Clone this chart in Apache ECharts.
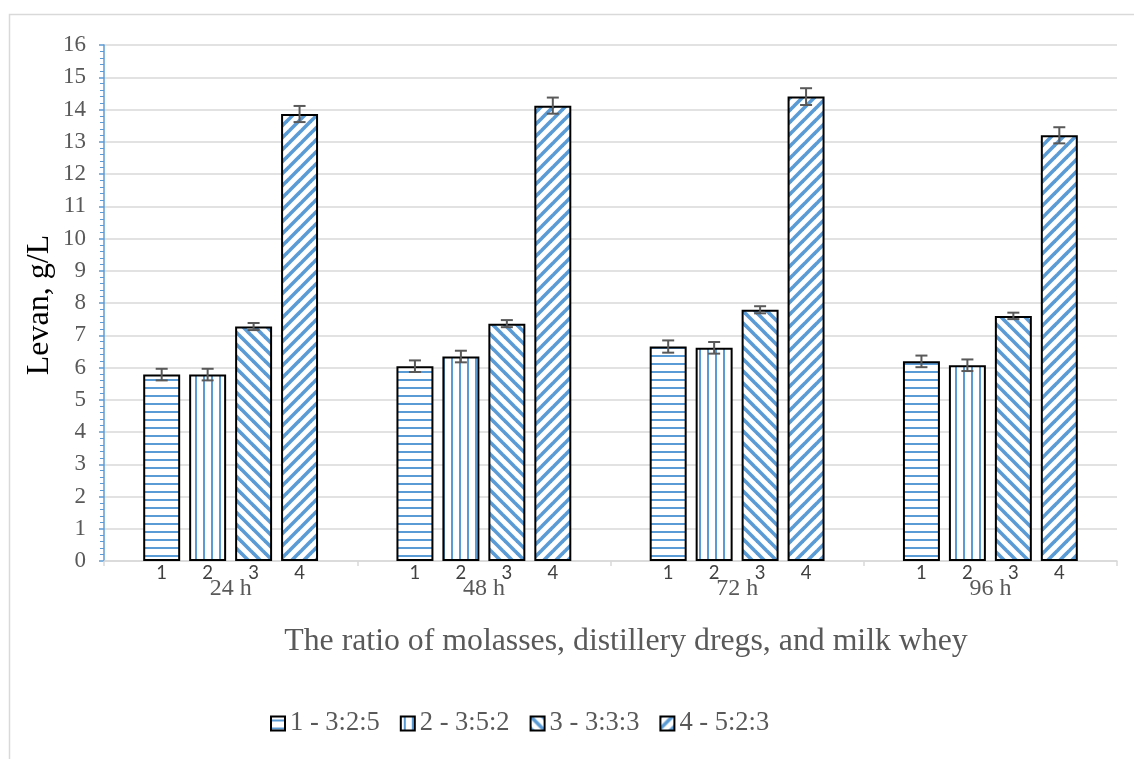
<!DOCTYPE html>
<html>
<head>
<meta charset="utf-8">
<script src="https://cdn.jsdelivr.net/npm/echarts@6/dist/echarts.min.js"></script>
<style>
html,body{margin:0;padding:0;background:#fff;}
#chart{width:1134px;height:759px;}
</style>
</head>
<body>
<div id="chart"></div>
<script>
// ---- data ----
const categories = ['24 h', '48 h', '72 h', '96 h'];
const seriesNames = ['1 - 3:2:5', '2 - 3:5:2', '3 - 3:3:3', '4 - 5:2:3'];
const barTags = ['1', '2', '3', '4'];
const ratio1 = [5.78, 6.04, 6.65, 6.19];
const ratio2 = [5.78, 6.34, 6.61, 6.07];
const ratio3 = [7.27, 7.36, 7.79, 7.60];
const ratio4 = [13.86, 14.12, 14.40, 13.20];
const err1 = [0.18, 0.18, 0.19, 0.18];
const err2 = [0.18, 0.18, 0.18, 0.18];
const err3 = [0.11, 0.11, 0.11, 0.10];
const err4 = [0.25, 0.25, 0.26, 0.25];
const yMin = 0, yMax = 16, yStep = 1;
const xTitle = 'The ratio of molasses, distillery dregs, and milk whey';
const yTitle = 'Levan, g/L';

const values = [ratio1, ratio2, ratio3, ratio4];
const errors = [err1, err2, err3, err4];

// ---- styles ----
const BLUE = '#5B9BD5';
const SERIF = "'Times New Roman', 'Liberation Serif', serif";
const barWidthFrac = 0.146;
const barGapFrac = 0.243;

function makePattern(kind) {
  const c = document.createElement('canvas');
  const ctx = c.getContext('2d');
  if (kind === 'h' || kind === 'v') {
    c.width = 8; c.height = 8;
    ctx.fillStyle = '#fff'; ctx.fillRect(0, 0, 8, 8);
    ctx.fillStyle = BLUE;
    if (kind === 'h') ctx.fillRect(0, 3, 8, 2); else ctx.fillRect(3, 0, 2, 8);
  } else {
    const s = 12;
    c.width = s; c.height = s;
    ctx.fillStyle = '#fff'; ctx.fillRect(0, 0, s, s);
    ctx.strokeStyle = BLUE; ctx.lineWidth = 3.6;
    for (const k of [-s, 0, s]) {
      ctx.beginPath();
      if (kind === 'd') { ctx.moveTo(k - 3, -3); ctx.lineTo(k + s + 3, s + 3); }
      else { ctx.moveTo(k - 3, s + 3); ctx.lineTo(k + s + 3, -3); }
      ctx.stroke();
    }
  }
  return { image: c, repeat: 'repeat' };
}
const patterns = [makePattern('h'), makePattern('v'), makePattern('d'), makePattern('u')];

const chart = echarts.init(document.getElementById('chart'), null, { renderer: 'canvas' });

const barSeries = values.map((vals, i) => ({
  name: seriesNames[i],
  type: 'bar',
  data: vals,
  barWidth: (barWidthFrac * 100) + '%',
  barGap: (barGapFrac * 100) + '%',
  itemStyle: { color: patterns[i], borderColor: '#000', borderWidth: 2 },
  label: {
    show: true,
    position: 'bottom',
    distance: 3,
    formatter: () => barTags[i],
    color: '#404040',
    fontSize: 18.5,
    fontFamily: "Lato, 'Liberation Sans', sans-serif"
  },
  emphasis: { disabled: true },
  z: 2
}));

const errData = [];
values.forEach((vals, s) => vals.forEach((v, c) => errData.push([c, v, errors[s][c], s])));

const errSeries = {
  type: 'custom',
  data: errData,
  encode: { x: 0, y: 1 },
  z: 5,
  silent: true,
  renderItem: function (params, api) {
    const c = api.value(0), v = api.value(1), e = api.value(2), s = api.value(3);
    const band = api.size([1, 0])[0];
    const step = band * barWidthFrac * (1 + barGapFrac);
    const x = api.coord([c, v])[0] + (s - (values.length - 1) / 2) * step;
    const yT = api.coord([c, v + e])[1];
    const yB = api.coord([c, v - e])[1];
    const cap = 6;
    const st = { stroke: '#595959', lineWidth: 2 };
    return {
      type: 'group',
      children: [
        { type: 'line', shape: { x1: x, y1: yT, x2: x, y2: yB }, style: st },
        { type: 'line', shape: { x1: x - cap, y1: yT, x2: x + cap, y2: yT }, style: st },
        { type: 'line', shape: { x1: x - cap, y1: yB, x2: x + cap, y2: yB }, style: st }
      ]
    };
  }
};

chart.setOption({
  animation: false,
  backgroundColor: '#fff',
  grid: { left: 104, right: 17, top: 45, bottom: 198 },
  graphic: [
    { type: 'rect', left: 7, top: 12, shape: { width: 1200, height: 800 },
      style: { fill: 'none', stroke: '#D9D9D9', lineWidth: 1.5 }, z: -10 },
    { type: 'text', x: 626, y: 642, z: 10,
      style: { text: xTitle, font: '31.8px ' + SERIF, fill: '#595959', textAlign: 'center', textVerticalAlign: 'middle' } },
    { type: 'text', x: 40, y: 305, rotation: Math.PI / 2, z: 10,
      style: { text: yTitle, font: '32px ' + SERIF, fill: '#000', textAlign: 'center', textVerticalAlign: 'middle' } }
  ],
  legend: {
    data: seriesNames,
    left: 265,
    top: 705,
    itemWidth: 14,
    itemHeight: 14,
    itemGap: 20,
    icon: 'rect',
    selectedMode: false,
    itemStyle: { borderColor: '#000', borderWidth: 2 },
    textStyle: { fontFamily: SERIF, fontSize: 26.5, color: '#595959', padding: [0, 0, 0, 0] }
  },
  xAxis: {
    type: 'category',
    data: categories,
    axisLine: { lineStyle: { color: '#D9D9D9', width: 1.5 } },
    axisTick: { show: true, length: 5, lineStyle: { color: '#D9D9D9', width: 1.5 } },
    axisLabel: { margin: 16, fontFamily: SERIF, fontSize: 24, color: '#595959' }
  },
  yAxis: {
    type: 'value',
    min: yMin, max: yMax, interval: yStep,
    axisLine: { show: true, lineStyle: { color: BLUE, width: 1.5 } },
    axisTick: { show: true, length: 5, lineStyle: { color: BLUE, width: 1.5 } },
    minorTick: { show: true, splitNumber: 5, length: 4, lineStyle: { color: BLUE, width: 1 } },
    splitLine: { lineStyle: { color: '#D9D9D9', width: 1.5 } },
    axisLabel: { margin: 18, fontFamily: SERIF, fontSize: 23, color: '#595959' }
  },
  series: [...barSeries, errSeries]
});
</script>
</body>
</html>
